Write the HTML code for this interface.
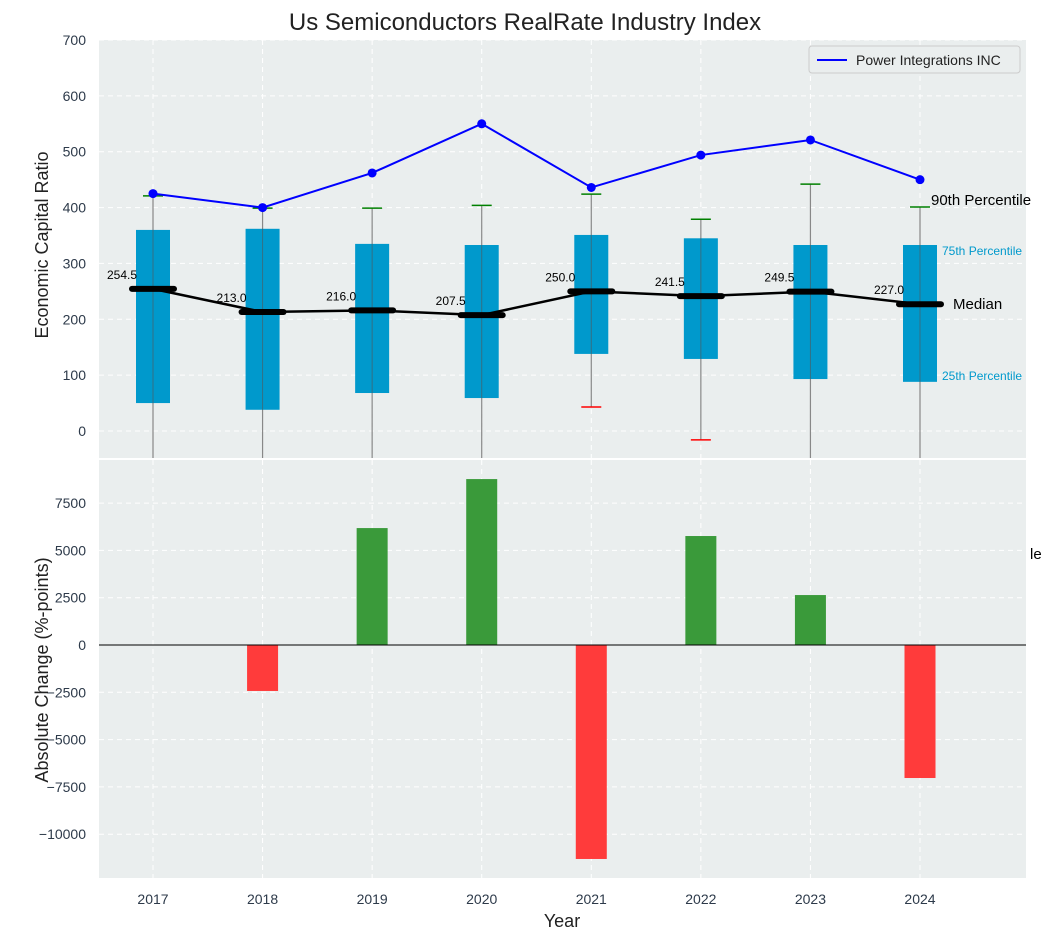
<!DOCTYPE html>
<html><head><meta charset="utf-8"><style>
body{margin:0;background:#fff;}
svg{font-family:"Liberation Sans",Arial,sans-serif;}
</style></head><body>
<svg id="c" width="1051" height="940" viewBox="0 0 1051 940"></svg>
<script>
const years=[2017,2018,2019,2020,2021,2022,2023,2024];
const lineVals=[425,400,462,550,436,494,521,450];
const q1=[50,38,68,59,138,129,93,88];
const q3=[360,362,335,333,351,345,333,333];
const medians=[254.5,213.0,216.0,207.5,250.0,241.5,249.5,227.0];
const p90=[421,399,399,404,424,379,442,401];
const p10=[-100,-100,-100,-100,43,-16,-100,-100];
const changes=[0,-2430,6180,8770,-11310,5760,2640,-7030];
const topTicks=[0,100,200,300,400,500,600,700];
const botTicks=[-10000,-7500,-5000,-2500,0,2500,5000,7500];

const NS="http://www.w3.org/2000/svg";
const svg=document.getElementById('c');
function el(t,a,txt){const e=document.createElementNS(NS,t);for(const k in a)e.setAttribute(k,a[k]);if(txt!==undefined)e.textContent=txt;svg.appendChild(e);return e;}
const L=99,R=1026,T1=40,B1=458,T2=460,B2=878;
const x=i=>153+i*(920-153)/7;
const y1=v=>431-v*(431-40)/700;
const y2=v=>645-v*47.3/2500;

let e;
e=el('text',{x:525,y:30,'text-anchor':'middle','font-size':24,fill:'#222'},'Us Semiconductors RealRate Industry Index');

e=el('rect',{x:L,y:T1,width:R-L,height:B1-T1,fill:'#eaeeee'});

e=el('rect',{x:L,y:T2,width:R-L,height:B2-T2,fill:'#eaeeee'});

topTicks.forEach(v=>{el('line',{x1:L,x2:R,y1:y1(v),y2:y1(v),stroke:'#fff','stroke-dasharray':'5,4','stroke-width':1});
 e=el('text',{x:L-13,y:y1(v)+5,'text-anchor':'end','font-size':14,fill:'#2d3a4a'},v);
 });
botTicks.forEach(v=>{el('line',{x1:L,x2:R,y1:y2(v),y2:y2(v),stroke:'#fff','stroke-dasharray':'5,4','stroke-width':1});
 e=el('text',{x:L-13,y:y2(v)+5,'text-anchor':'end','font-size':14,fill:'#2d3a4a'},v<0?'\u2212'+(-v):v);
 });
years.forEach((yr,i)=>{
 el('line',{x1:x(i),x2:x(i),y1:T1,y2:B1,stroke:'#fff','stroke-dasharray':'5,4'});
 el('line',{x1:x(i),x2:x(i),y1:T2,y2:B2,stroke:'#fff','stroke-dasharray':'5,4'});
 e=el('text',{x:x(i),y:904,'text-anchor':'middle','font-size':14,fill:'#2d3a4a'},yr);
 
});
years.forEach((yr,i)=>{
 e=el('line',{x1:x(i),x2:x(i),y1:Math.min(y1(p10[i]),B1),y2:y1(p90[i]),stroke:'#888','stroke-width':1.2});
 
 e=el('rect',{x:x(i)-17,y:y1(q3[i]),width:34,height:y1(q1[i])-y1(q3[i]),fill:'#0099cc'});
 
 el('line',{x1:x(i),x2:x(i),y1:y1(q3[i]),y2:y1(q1[i]),stroke:'#555','stroke-width':1,opacity:0.6});
 e=el('line',{x1:x(i)-10,x2:x(i)+10,y1:y1(p90[i]),y2:y1(p90[i]),stroke:'green','stroke-width':1.5});
 
 if(y1(p10[i])<B1){e=el('line',{x1:x(i)-10,x2:x(i)+10,y1:y1(p10[i]),y2:y1(p10[i]),stroke:'red','stroke-width':1.5});
 }
});
e=el('polyline',{points:medians.map((m,i)=>x(i)+','+y1(m)).join(' '),fill:'none',stroke:'#000','stroke-width':2.5});

medians.forEach((m,i)=>{
 e=el('line',{x1:x(i)-21,x2:x(i)+21,y1:y1(m),y2:y1(m),stroke:'#000','stroke-width':6,'stroke-linecap':'round'});
 
 e=el('text',{x:x(i)-16,y:y1(m)-10,'text-anchor':'end','font-size':12,fill:'#000'},m.toFixed(1));
 
});
e=el('polyline',{points:lineVals.map((v,i)=>x(i)+','+y1(v)).join(' '),fill:'none',stroke:'#0000ff','stroke-width':2});

lineVals.forEach((v,i)=>{e=el('circle',{cx:x(i),cy:y1(v),r:4.5,fill:'#0000ff'});
 });
const n=7;
[['90th Percentile',x(n)+11,y1(p90[n])-2,15,'#000'],['75th Percentile',x(n)+22,y1(q3[n])+10,12,'#0099cc'],['Median',x(n)+33,y1(medians[n])+5,15,'#000'],['25th Percentile',x(n)+22,y1(q1[n])-2,12,'#0099cc'],['le',1030,559,15,'#000']].forEach(a=>{
 e=el('text',{x:a[1],y:a[2],'font-size':a[3],fill:a[4]},a[0]);
 });
changes.forEach((v,i)=>{ if(v===0)return;
 const top=Math.min(y2(v),y2(0)),h=Math.abs(y2(v)-y2(0));
 e=el('rect',{x:x(i)-15.5,y:top,width:31,height:h,fill:v>=0?'#3a9a3a':'#ff3b3b'});
 });
el('line',{x1:L,x2:R,y1:y2(0),y2:y2(0),stroke:'#000','stroke-width':1});
e=el('rect',{x:809,y:46,width:211,height:27,fill:'#eaeeee',stroke:'#ccc',rx:3});

el('line',{x1:817,x2:847,y1:60,y2:60,stroke:'#0000ff','stroke-width':2});
e=el('text',{x:856,y:65,'font-size':14,fill:'#222'},'Power Integrations INC');

e=el('text',{x:0,y:0,'font-size':18,fill:'#222','text-anchor':'middle',transform:'translate(48,245) rotate(-90)'},'Economic Capital Ratio');

e=el('text',{x:0,y:0,'font-size':18,fill:'#222','text-anchor':'middle',transform:'translate(48,670) rotate(-90)'},'Absolute Change (%-points)');

e=el('text',{x:562,y:927,'font-size':18,fill:'#222','text-anchor':'middle'},'Year');

</script>
</body></html>
